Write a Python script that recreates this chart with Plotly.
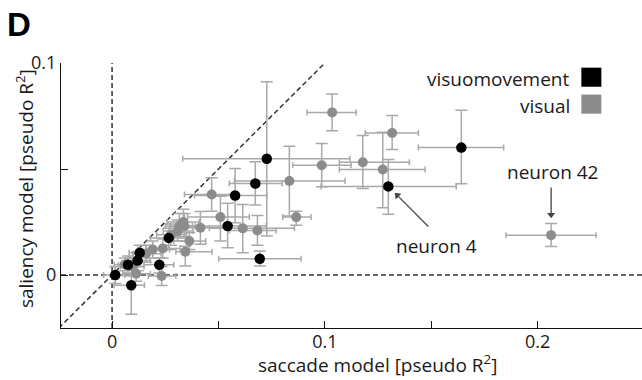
import plotly.graph_objects as go

# ---- data: visuomovement neurons (black) ----
vm_x    = [0.0015, 0.0090, 0.0075, 0.0120, 0.0130, 0.0222, 0.0266, 0.0543, 0.0578, 0.0673, 0.0727, 0.0694, 0.1298, 0.1641]
vm_y    = [0.0000, -0.0048, 0.0048, 0.0068, 0.0105, 0.0048, 0.0175, 0.0231, 0.0375, 0.0432, 0.0548, 0.0077, 0.0418, 0.0601]
vm_x_lo = [-0.004, 0.0010, 0.0030, 0.0060, 0.0080, 0.0150, 0.0180, 0.0377, 0.0387, 0.0551, 0.0332, 0.0501, 0.0982, 0.1439]
vm_x_hi = [0.0060, 0.0152, 0.0120, 0.0180, 0.0190, 0.0290, 0.0350, 0.0724, 0.0727, 0.0799, 0.1118, 0.0888, 0.1617, 0.1840]
vm_y_lo = [-0.004, -0.0185, 0.0010, 0.0020, 0.0060, 0.0010, 0.0120, 0.0129, 0.0247, 0.0330, 0.0184, 0.0042, 0.0286, 0.0430]
vm_y_hi = [0.0040, -0.0005, 0.0090, 0.0110, 0.0140, 0.0080, 0.0220, 0.0338, 0.0502, 0.0534, 0.0911, 0.0113, 0.0545, 0.0777]

# ---- data: visual neurons (gray) ----
vis_x    = [0.1034, 0.0985, 0.0833, 0.0468, 0.0865, 0.0509, 0.0614, 0.0683, 0.0415, 0.0363, 0.0340, 0.0344, 0.1316, 0.1178,
            0.1272, 0.2063, 0.0233, 0.0113, 0.0094, 0.0060, 0.0160, 0.0191, 0.0238, 0.0277, 0.0308, 0.0316, 0.0335]
vis_y    = [0.0767, 0.0518, 0.0443, 0.0380, 0.0273, 0.0273, 0.0220, 0.0210, 0.0223, 0.0160, 0.0231, 0.0110, 0.0670, 0.0532,
            0.0498, 0.0188, -0.0005, 0.0006, 0.0040, 0.0050, 0.0100, 0.0120, 0.0125, 0.0190, 0.0207, 0.0230, 0.0250]
vis_x_lo = [0.0916, 0.0849, 0.0575, 0.0340, 0.0802, 0.0355, 0.0457, 0.0551, 0.0316, 0.0290, 0.0270, 0.0300, 0.1190, 0.1068,
            0.1068, 0.1851, 0.0170, 0.0050, 0.0040, 0.0010, 0.0100, 0.0120, 0.0160, 0.0210, 0.0240, 0.0250, 0.0260]
vis_x_hi = [0.1147, 0.1123, 0.1095, 0.0575, 0.0935, 0.0645, 0.0857, 0.0771, 0.0551, 0.0440, 0.0420, 0.0470, 0.1439, 0.1397,
            0.1471, 0.2274, 0.0300, 0.0180, 0.0150, 0.0110, 0.0230, 0.0270, 0.0320, 0.0350, 0.0380, 0.0390, 0.0410]
vis_y_lo = [0.0681, 0.0416, 0.0278, 0.0301, 0.0235, 0.0160, 0.0105, 0.0140, 0.0145, 0.0120, 0.0180, 0.0042, 0.0592, 0.0408,
            0.0317, 0.0134, -0.0050, -0.0030, 0.0000, 0.0020, 0.0060, 0.0080, 0.0080, 0.0140, 0.0160, 0.0180, 0.0200]
vis_y_hi = [0.0854, 0.0620, 0.0607, 0.0459, 0.0301, 0.0372, 0.0333, 0.0281, 0.0300, 0.0200, 0.0290, 0.0136, 0.0752, 0.0658,
            0.0673, 0.0243, 0.0040, 0.0040, 0.0080, 0.0080, 0.0140, 0.0160, 0.0170, 0.0240, 0.0260, 0.0290, 0.0310]

x_tickvals = [0, 0.1, 0.2]
x_ticktext = ["0", "0.1", "0.2"]
x_minor_tickvals = [0.05, 0.15]
y_tickvals = [0, 0.1]
y_ticktext = ["0", "0.1"]
y_minor_tickvals = [0.05]

labels = ["visuomovement", "visual"]

BLACK = "#000000"
GRAY = "#8c8c8c"
ERR = "#a9a9a9"
TXT = "#1a1a1a"
FONT = "Open Sans"


def err_trace(xs, ys, xlo, xhi, ylo, yhi):
    return go.Scatter(
        x=xs, y=ys, mode="markers",
        marker=dict(size=1, color="rgba(0,0,0,0)"),
        error_x=dict(type="data", symmetric=False,
                     array=[h - v for h, v in zip(xhi, xs)],
                     arrayminus=[v - l for v, l in zip(xs, xlo)],
                     color=ERR, thickness=1.5, width=3),
        error_y=dict(type="data", symmetric=False,
                     array=[h - v for h, v in zip(yhi, ys)],
                     arrayminus=[v - l for v, l in zip(ys, ylo)],
                     color=ERR, thickness=1.5, width=6),
        hoverinfo="skip", showlegend=False, cliponaxis=False,
    )


fig = go.Figure()
fig.add_trace(err_trace(vis_x, vis_y, vis_x_lo, vis_x_hi, vis_y_lo, vis_y_hi))
fig.add_trace(err_trace(vm_x, vm_y, vm_x_lo, vm_x_hi, vm_y_lo, vm_y_hi))
fig.add_trace(go.Scatter(x=vis_x, y=vis_y, mode="markers", name=labels[1],
                         marker=dict(size=10, color=GRAY, line=dict(width=0)),
                         showlegend=False, cliponaxis=False))
fig.add_trace(go.Scatter(x=vm_x, y=vm_y, mode="markers", name=labels[0],
                         marker=dict(size=10.5, color=BLACK, line=dict(width=0)),
                         showlegend=False, cliponaxis=False))

dash_line = dict(color="#333333", width=1.5, dash="5px,3px")
shapes = [
    dict(type="line", xref="paper", yref="y", x0=0, x1=1, y0=0, y1=0, line=dash_line, layer="below"),
    dict(type="line", xref="x", yref="paper", x0=0, x1=0, y0=0, y1=1, line=dash_line, layer="below"),
    dict(type="line", xref="x", yref="y", x0=-0.025, y0=-0.025, x1=0.1, y1=0.1, line=dash_line, layer="below"),
    # legend swatches
    dict(type="rect", xref="x", yref="y", x0=0.2205, x1=0.2299, y0=0.0888, y1=0.0978,
         fillcolor=BLACK, line=dict(width=0)),
    dict(type="rect", xref="x", yref="y", x0=0.2205, x1=0.2299, y0=0.0761, y1=0.0851,
         fillcolor=GRAY, line=dict(width=0)),
    # annotation arrow shafts
    dict(type="line", xref="x", yref="y", x0=0.1486, y0=0.0229, x1=0.1345, y1=0.0371,
         line=dict(color="#444444", width=1.3)),
    dict(type="line", xref="x", yref="y", x0=0.2063, y0=0.0413, x1=0.2063, y1=0.0290,
         line=dict(color="#444444", width=1.3)),
]

annotations = [
    dict(text="visuomovement", x=0.2161, y=0.0926, xref="x", yref="y", xanchor="right", yanchor="middle",
         showarrow=False, font=dict(size=19, color=TXT, family=FONT)),
    dict(text="visual", x=0.2161, y=0.0799, xref="x", yref="y", xanchor="right", yanchor="middle",
         showarrow=False, font=dict(size=19, color=TXT, family=FONT)),
    # neuron 4
    dict(text="neuron 4", x=0.1524, y=0.0139, xref="x", yref="y", xanchor="center", yanchor="middle",
         showarrow=False, font=dict(size=19, color=TXT, family=FONT)),
    # neuron 42
    dict(text="neuron 42", x=0.2069, y=0.0484, xref="x", yref="y", xanchor="center", yanchor="middle",
         showarrow=False, font=dict(size=19, color=TXT, family=FONT)),
    # axis titles
    dict(text="saccade model [pseudo R<sup>2</sup>]", x=0.544, y=-0.196, xref="paper", yref="paper",
         xanchor="center", yanchor="bottom", showarrow=False, font=dict(size=19, color=TXT, family=FONT)),
    dict(text="saliency model [pseudo R<sup>2</sup>]", x=-0.062, y=0.528, xref="paper", yref="paper",
         xanchor="center", yanchor="middle", textangle=-90, showarrow=False,
         font=dict(size=19, color=TXT, family=FONT)),
    # panel letter
    dict(text="<b>D</b>", x=-0.097, y=1.145, xref="paper", yref="paper", xanchor="left", yanchor="middle",
         showarrow=False, font=dict(size=33, color="#000000", family="Liberation Sans")),
]

fig.update_layout(
    width=642, height=380,
    margin=dict(l=61, r=0, t=63, b=52),
    paper_bgcolor="white", plot_bgcolor="white",
    showlegend=False,
    shapes=shapes, annotations=annotations,
    font=dict(family=FONT, size=18, color=TXT),
    xaxis=dict(range=[-0.024, 0.249], showgrid=False, zeroline=False,
               showline=True, linecolor="#111111", linewidth=1.3,
               ticks="inside", ticklen=7, tickwidth=1.3, tickcolor="#111111",
               tickvals=x_tickvals, ticktext=x_ticktext, ticklabelstandoff=-3,
               minor=dict(tickvals=x_minor_tickvals, ticks="inside", ticklen=7, tickwidth=1.3,
                          tickcolor="#111111", showgrid=False),
               tickfont=dict(size=18, family=FONT, color=TXT)),
    yaxis=dict(range=[-0.025, 0.1], showgrid=False, zeroline=False,
               showline=True, linecolor="#111111", linewidth=1.3,
               ticks="inside", ticklen=7, tickwidth=1.3, tickcolor="#111111",
               tickvals=y_tickvals, ticktext=y_ticktext,
               minor=dict(tickvals=y_minor_tickvals, ticks="inside", ticklen=7, tickwidth=1.3,
                          tickcolor="#111111", showgrid=False),
               tickfont=dict(size=18, family=FONT, color=TXT)),
)

# arrow heads (small filled triangles) via annotations without text would be empty texts;
# draw them as markers instead
fig.add_trace(go.Scatter(x=[0.1340, 0.2063], y=[0.0376, 0.0284], mode="markers",
                         marker=dict(symbol=["triangle-up", "triangle-down"], size=7, color="#444444",
                                     angle=[-45, 0], line=dict(width=0)),
                         hoverinfo="skip", showlegend=False, cliponaxis=False))

fig.write_html("out.html")
